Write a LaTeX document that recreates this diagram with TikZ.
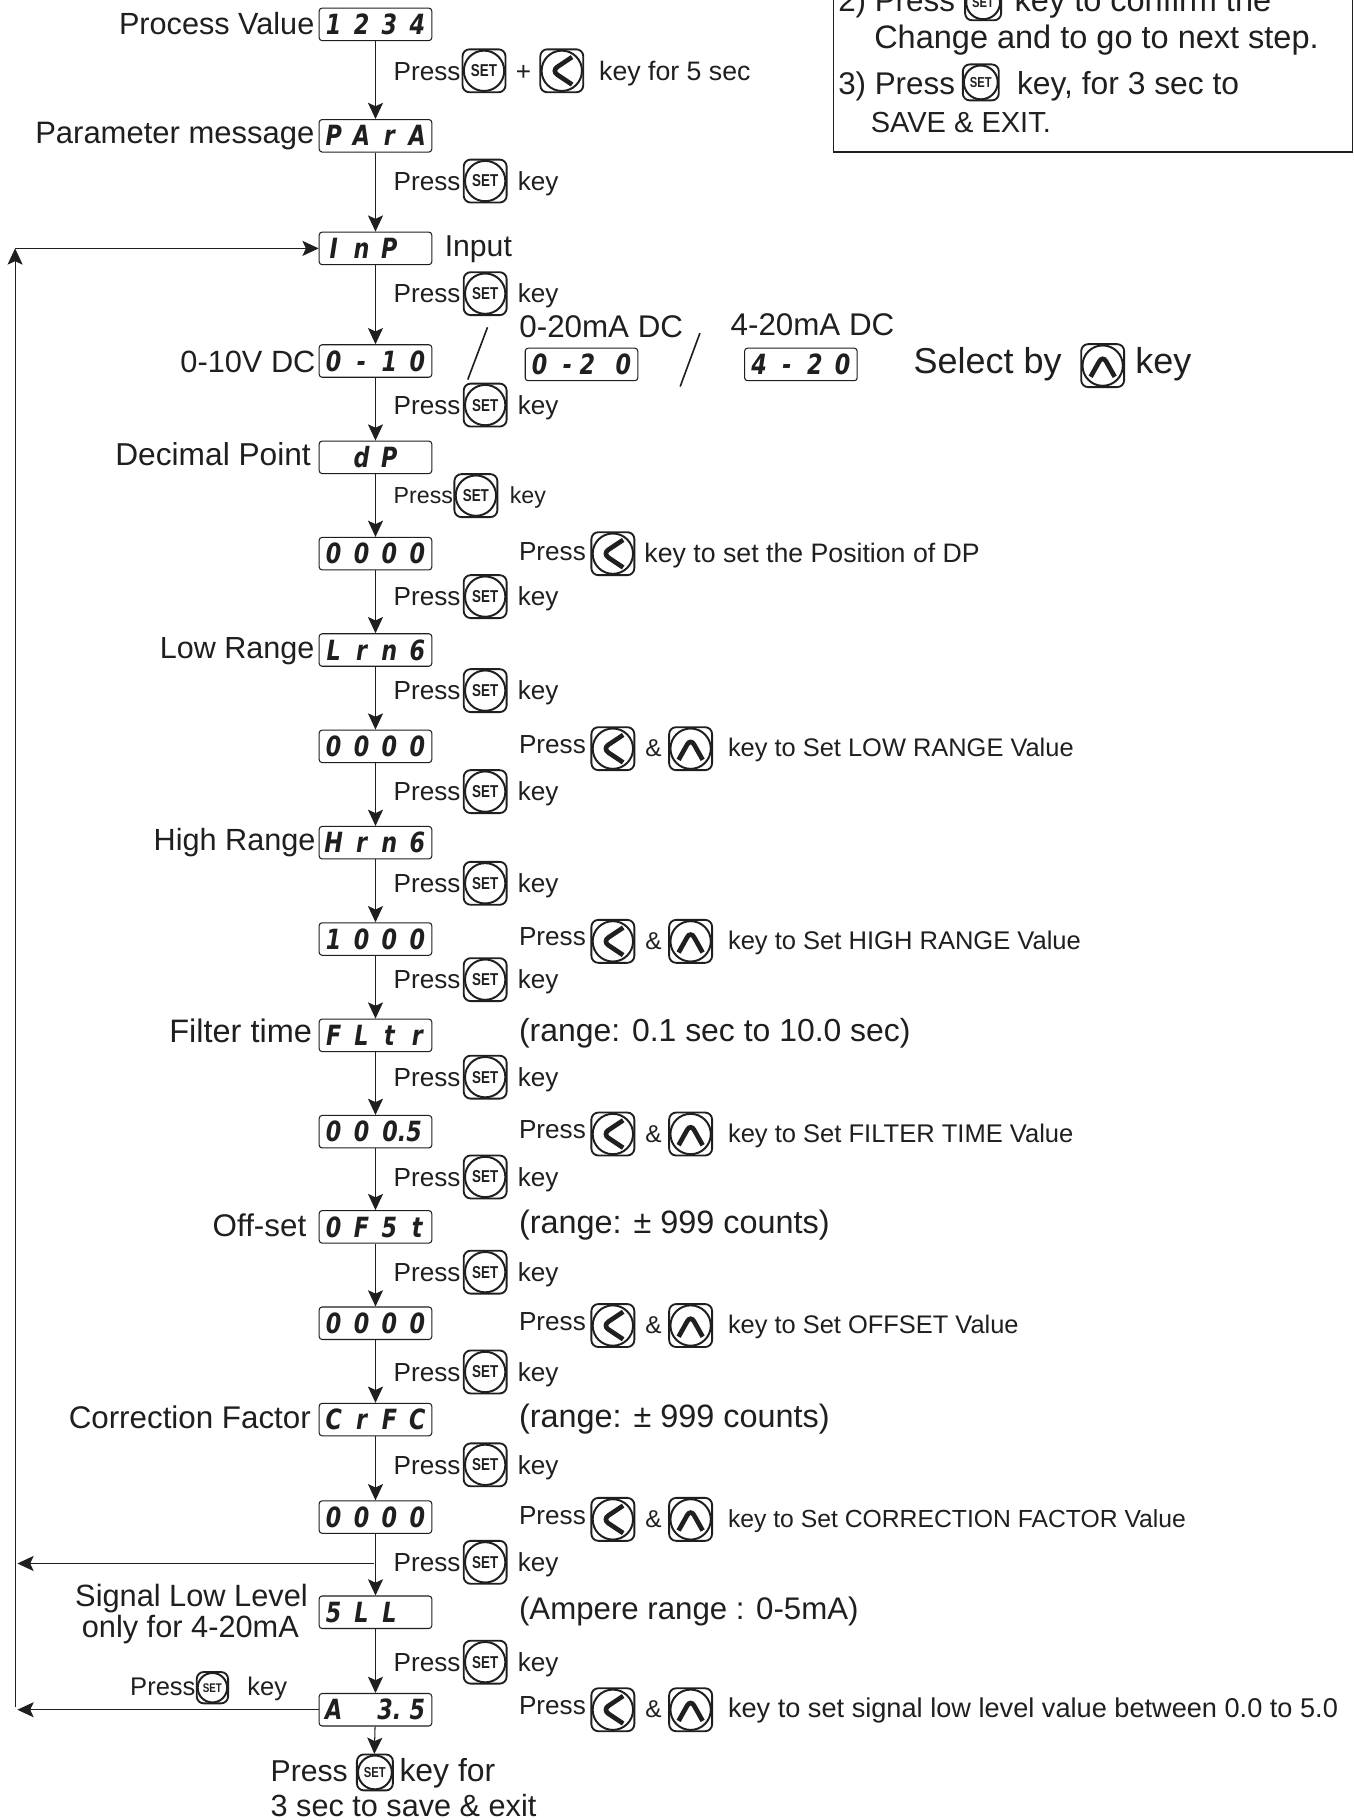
\documentclass[tikz,border=0pt]{standalone}
\usepackage{fontspec}
\usetikzlibrary{arrows.meta}
\setmainfont{Liberation Sans}
\newfontfamily\segfont[FakeStretch=0.8]{DejaVu Sans Bold Oblique}
\newfontfamily\keyfont[FakeStretch=0.78]{Liberation Sans Bold}
\definecolor{ink}{gray}{0.12}
\newcommand{\fs}[1]{\fontsize{#1}{#1}\selectfont}
\newcommand{\dc}[1]{\makebox[24pt][c]{#1}}
\tikzset{
  x=1pt,y=-1pt,
  every node/.append style={text=ink},
  lb/.style={font=\fs{#1},inner sep=0pt,anchor=base west},
  lbr/.style={font=\fs{#1},inner sep=0pt,anchor=base east},
  lbc/.style={font=\fs{#1},inner sep=0pt,anchor=base},
  disp/.style={draw=ink,line width=0.9pt,rounded corners=2.5pt,minimum width=97pt,minimum height=28pt,inner sep=0pt,font=\segfont\fs{24}},
  flow/.style={draw=ink,line width=0.9pt,-{Stealth[length=14pt,width=13pt,inset=3pt]}},
  keybase/.style={draw=ink,line width=1.6pt,rounded corners=6pt,minimum size=#1,inner sep=0pt},
  setkey/.style={keybase=#1,font=\keyfont\fs{\fpeval{#1*0.40}},
    path picture={\draw[ink,line width=1.7pt] (path picture bounding box.center) circle ({#1*0.47});}},
  leftkey/.style={keybase=#1,
    path picture={\draw[ink,line width=1.7pt] (path picture bounding box.center) circle ({#1*0.47});
      \draw[ink,line width=4pt,miter limit=10] ([shift={(#1*0.24,-#1*0.32)}]path picture bounding box.center) -- ([shift={(-#1*0.24,0)}]path picture bounding box.center) -- ([shift={(#1*0.24,#1*0.32)}]path picture bounding box.center);}},
  upkey/.style={keybase=#1,
    path picture={\draw[ink,line width=1.7pt] (path picture bounding box.center) circle ({#1*0.47});
      \draw[ink,line width=4pt,miter limit=10] ([shift={(-#1*0.28,#1*0.26)}]path picture bounding box.center) -- ([shift={(0,-#1*0.24)}]path picture bounding box.center) -- ([shift={(#1*0.28,#1*0.26)}]path picture bounding box.center);}},
}
% press row beside the flow line
\newcommand{\pressrow}[2]{%
  \node[lb=22.5] (pr#1) at (339,#2+8) {Press};
  \node[setkey=37] (prk#1) at (418,#2) {SET};
  \node[lb=22.5] (prt#1) at (446,#2+8) {key};
}
% value row to the right of a display
\newcommand{\valrow}[4]{%
  \node[lb=22.5] (vp#1) at (447,#2+6) {Press};
  \node[leftkey=37] (vl#1) at (528,#2+2) {};
  \node[lbc=21] (va#1) at (563,#2+9) {\&};
  \node[upkey=37] (vu#1) at (595,#2+2) {};
  \node[lb=#4] (vt#1) at (627,#2+9) {#3};
}
\newcommand{\disptext}[4]{\makebox[92pt][c]{\dc{#1}\dc{#2}\dc{#3}\dc{#4}}}
\begin{document}
\begin{tikzpicture}
\useasboundingbox (0,0) rectangle (1166,1568);
\clip (0,0) rectangle (1166,1568);
\fill[white] (0,0) rectangle (1166,1568);

% note box (its top runs off the page)
\draw[ink,line width=1pt] (718,-20) -- (718,131) -- (1165,131) -- (1165,-20);
\node[lb=27] (n2a) at (722,10) {2) Press};
\node[setkey=31] (n2k) at (847,2) {SET};
\node[lb=28] (n2b) at (874,10) {key to confirm the};
\node[lb=28] (n2c) at (753,42) {Change and to go to next step.};
\node[lb=27] (n3a) at (722,81) {3) Press};
\node[setkey=31] (n3k) at (845,71) {SET};
\node[lb=27.4] (n3b) at (876,81) {key, for 3 sec to};
\node[lb=25] (n3c) at (750,114) {SAVE \& EXIT.};

% displays
\node[disp] (d1) at (323.5,21) {\disptext{1}{2}{3}{4}};
\node[disp] (d2) at (323.5,117) {\disptext{P}{A}{r}{A}};
\node[disp] (d3) at (323.5,214) {\disptext{I}{n}{P}{}};
\node[disp] (d4) at (323.5,311) {\disptext{0}{-}{1}{0}};
\node[disp] (d5) at (323.5,394) {\disptext{}{d}{P}{}};
\node[disp] (d6) at (323.5,477) {\disptext{0}{0}{0}{0}};
\node[disp] (d7) at (323.5,560) {\disptext{L}{r}{n}{6}};
\node[disp] (d8) at (323.5,643) {\disptext{0}{0}{0}{0}};
\node[disp] (d9) at (323.5,726) {\disptext{H}{r}{n}{6}};
\node[disp] (d10) at (323.5,809) {\disptext{1}{0}{0}{0}};
\node[disp] (d11) at (323.5,892) {\disptext{F}{L}{t}{r}};
\node[disp] (d12) at (323.5,975) {\disptext{0}{0}{\kern22pt 0.5}{}};
\node[disp] (d13) at (323.5,1057) {\disptext{0}{F}{5}{t}};
\node[disp] (d14) at (323.5,1140) {\disptext{0}{0}{0}{0}};
\node[disp] (d15) at (323.5,1223) {\disptext{C}{r}{F}{C}};
\node[disp] (d16) at (323.5,1307) {\disptext{0}{0}{0}{0}};
\node[disp] (d17) at (323.5,1389) {\disptext{5}{L}{L}{}};
\node[disp] (d18) at (323.5,1473) {\disptext{A}{}{3.}{5}};
\node[disp] (e1) at (501,314) {\disptext{0}{-}{\kern-14pt 2}{0}};
\node[disp] (e2) at (690,314) {\disptext{4}{-}{2}{0}};

% flow
\foreach \a/\b in {d1/d2,d2/d3,d3/d4,d4/d5,d5/d6,d6/d7,d7/d8,d8/d9,d9/d10,d10/d11,d11/d12,d12/d13,d13/d14,d14/d15,d15/d16,d16/d17,d17/d18}
  \draw[flow] (\a) -- (\b);
\coordinate (rt) at (13,214);
\coordinate (rb) at (13,1471);
\coordinate (br) at (322,1347);
\coordinate (bt) at (15,1347);
\coordinate (ct) at (15,1473);
\coordinate (ex) at (322.5,1511);
\draw[flow] (rb) -- (rt);
\draw[flow] (rt) -- (d3);
\draw[flow] (br) -- (bt);
\draw[flow] (d18) -- (ct);
\draw[flow] (d18) -- (ex);

% left labels
\node[lbr=26.4] (l1) at (271,30) {Process Value};
\node[lbr=26.7] (l2) at (271,124) {Parameter message};
\node[lb=26] (l3) at (383,221) {Input};
\node[lbr=26.5] (l4) at (272,321) {0-10V DC};
\node[lbr=27.3] (l5) at (268,401) {Decimal Point};
\node[lbr=26.3] (l7) at (271,567) {Low Range};
\node[lbr=26.4] (l9) at (272,733) {High Range};
\node[lbr=28] (l11) at (269,898) {Filter time};
\node[lbr=27] (l13) at (264,1065) {Off-set};
\node[lbr=27] (l15) at (268,1231) {Correction Factor};
\node[lbc=26.5] (l17a) at (165,1384) {Signal Low Level};
\node[lbc=26.5] (l17b) at (164,1411) {only for 4-20mA};

% option displays
\node[lbc=27] (o1) at (518,291) {0-20mA DC};
\node[lbc=27] (o2) at (700,289) {4-20mA DC};
\coordinate (s1a) at (420,282);
\coordinate (s1b) at (403,327);
\coordinate (s2a) at (603,287);
\coordinate (s2b) at (586,333);
\draw[ink,line width=1.4pt] (s1a) -- (s1b);
\draw[ink,line width=1.4pt] (s2a) -- (s2b);
\node[lb=31] (sel) at (787,322) {Select by};
\node[upkey=37] (selk) at (950,315) {};
\node[lb=31] (selt) at (978,322) {key};

% press rows
\node[lb=22.5] (p1) at (339,69) {Press};
\node[setkey=37] (p1k) at (417,61) {SET};
\node[lbc=22.5] (p1p) at (451,69) {+};
\node[leftkey=37] (p1l) at (484,61) {};
\node[lb=23] (p1t) at (516,69) {key for 5 sec};
\pressrow{2}{156}
\pressrow{3}{253}
\pressrow{4}{349}
\node[lb=20] (p5) at (339,434) {Press};
\node[setkey=37] (p5k) at (410,427) {SET};
\node[lb=20] (p5t) at (439,434) {key};
\pressrow{6}{514}
\pressrow{7}{595}
\pressrow{8}{682}
\pressrow{9}{761}
\pressrow{10}{844}
\pressrow{11}{928}
\pressrow{12}{1014}
\pressrow{13}{1096}
\pressrow{14}{1182}
\pressrow{15}{1262}
\pressrow{16}{1346}
\pressrow{17}{1432}

% value rows
\node[lb=22.5] (v0p) at (447,483) {Press};
\node[leftkey=37] (v0l) at (528,477) {};
\node[lb=23] (v0t) at (555,485) {key to set the Position of DP};
\valrow{1}{643}{key to Set LOW RANGE Value}{21.9}
\valrow{2}{809}{key to Set HIGH RANGE Value}{22}
\valrow{3}{975}{key to Set FILTER TIME Value}{22}
\valrow{4}{1140}{key to Set OFFSET Value}{21.9}
\valrow{5}{1307}{key to Set CORRECTION FACTOR Value}{21.3}
\valrow{6}{1471}{key to set signal low level value between 0.0 to 5.0}{23.4}

% range notes
\node[lb=27.5] (r1) at (447,897) {(range: 0.1 sec to 10.0 sec)};
\node[lb=27.9] (r2) at (447,1063) {(range: ± 999 counts)};
\node[lb=27.9] (r3) at (447,1230) {(range: ± 999 counts)};
\node[lb=26.9] (r4) at (447,1395) {(Ampere range : 0-5mA)};

% branch label and exit
\node[lb=22] (b1) at (112,1461) {Press};
\node[setkey=27] (b1k) at (183,1454) {SET};
\node[lb=22] (b1t) at (213,1461) {key};
\node[lb=26] (x1) at (233,1535) {Press};
\node[setkey=31] (x1k) at (323,1527) {SET};
\node[lb=27.5] (x1t) at (344,1535) {key for};
\node[lb=26.4] (x2) at (233,1565) {3 sec to save \& exit};
\end{tikzpicture}
\end{document}
